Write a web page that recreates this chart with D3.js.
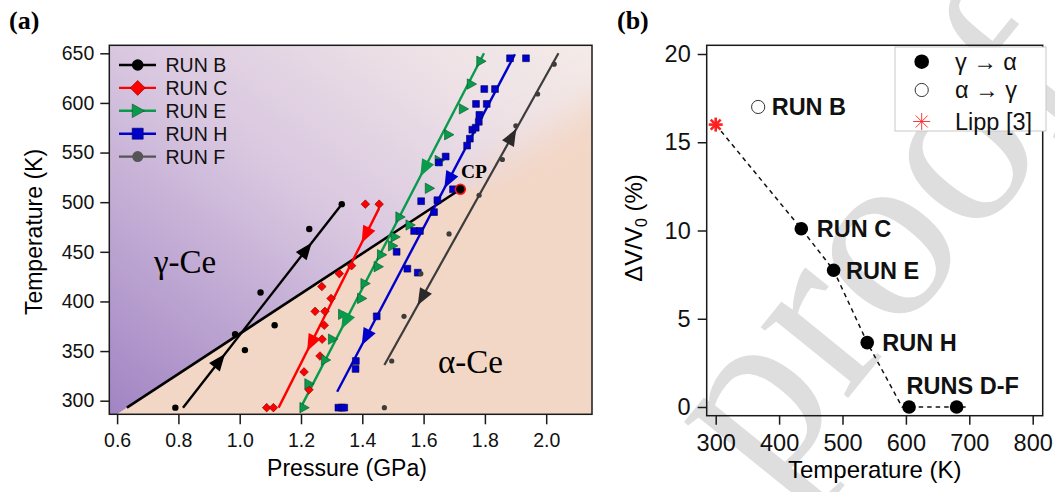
<!DOCTYPE html>
<html><head><meta charset="utf-8">
<script src="https://cdn.jsdelivr.net/npm/d3@7"></script>
<style>body{margin:0;background:#fff}svg{display:block}</style>
</head><body>
<svg id="c" width="1055" height="492"></svg>
<script>
// ---------------- Panel (a) data ----------------
const runB_P = [0.79, 0.985, 1.017, 1.068, 1.114, 1.227, 1.333];
const runB_T = [293, 367, 351, 409, 376, 473, 498];
const runC_P = [1.088, 1.110, 1.226, 1.210, 1.262, 1.269, 1.276, 1.246, 1.278, 1.298, 1.268, 1.325, 1.365, 1.410, 1.455];
const runC_T = [293, 293, 311, 329, 345, 362, 376, 390, 390, 403, 415, 428, 436, 498, 498];
const runE_P = [1.21, 1.226, 1.28, 1.303, 1.336, 1.398, 1.409, 1.452, 1.463, 1.499, 1.507, 1.523, 1.556, 1.619, 1.651, 1.682, 1.73, 1.756, 1.787];
const runE_T = [293, 317, 341, 362, 387, 403, 418, 435, 447, 456, 465, 485, 477, 514, 542, 568, 594, 619, 642];
const runH_P = [1.322, 1.333, 1.341, 1.378, 1.379, 1.447, 1.547, 1.581, 1.512, 1.569, 1.588, 1.634, 1.645, 1.592, 1.696, 1.650, 1.672, 1.742, 1.751, 1.759, 1.77, 1.78, 1.782, 1.771, 1.806, 1.798, 1.833, 1.882, 1.934];
const runH_T = [293, 293, 293, 332, 340, 385, 433, 429, 450, 471, 471, 490, 502, 501, 513, 540, 546, 557, 564, 573, 575, 581, 588, 599, 599, 614, 614, 645, 645];
const runF_P = [1.472, 1.496, 1.536, 1.591, 1.683, 1.781, 1.857, 1.901, 1.972, 2.026];
const runF_T = [293, 340, 385, 428, 468, 507, 543, 577, 609, 639];

// guide lines [P0, T0, P1, T1]
const lineB = [0.815, 293, 1.333, 498];
const lineC = [1.127, 293, 1.455, 494];
const lineE = [1.199, 293, 1.797, 650];
const lineH = [1.318, 309, 1.898, 649];
const lineF = [1.472, 336, 2.04, 650];
const boundary = [0.632, 293, 1.72, 513];
const cpPoint = [1.72, 513];

// arrow temperatures and directions (+1 = toward higher T, -1 = toward lower T)
const arrB_T = [340, 452], arrB_D = [1, 1];
const arrC_T = [358, 467], arrC_D = [-1, -1];
const arrE_T = [380, 534], arrE_D = [-1, -1];
const arrH_T = [364, 522], arrH_D = [-1, -1];
const arrF_T = [404, 566], arrF_D = [-1, 1];

const runNames = ["RUN B", "RUN C", "RUN E", "RUN H", "RUN F"];
const xTicksA = [0.6, 0.8, 1.0, 1.2, 1.4, 1.6, 1.8, 2.0];
const yTicksA = [300, 350, 400, 450, 500, 550, 600, 650];

// ---------------- Panel (b) data ----------------
const gammaT = [435, 486, 539, 605, 680];
const gammaV = [10.1, 7.75, 3.65, 0, 0];
const gammaLabels = ["RUN C", "RUN E", "RUN H", "", ""];
const alphaT = [367];
const alphaV = [17.0];
const alphaLabels = ["RUN B"];
const lippT = [300];
const lippV = [16];
const dashT = [300, 435, 486, 539, 594, 700];
const dashV = [16, 10.1, 7.75, 3.65, 0, 0];
const legendB = ["γ → α", "α → γ", "Lipp [3]"];
const xTicksB = [300, 400, 500, 600, 700, 800];
const yTicksB = [0, 5, 10, 15, 20];

// ---------------- drawing ----------------
const SANS = "'Liberation Sans', Arial, Helvetica, sans-serif";
const SERIF = "'Liberation Serif', 'Times New Roman', serif";
const svg = d3.select("#c");
const defs = svg.append("defs");

// watermark (drawn first, under everything)
defs.append("clipPath").attr("id", "clipAll").append("rect")
  .attr("x", 600).attr("y", 0).attr("width", 455).attr("height", 492);
svg.append("g").attr("clip-path", "url(#clipAll)").append("text")
  .attr("transform", "translate(768,497) rotate(-51)")
  .attr("font-family", SERIF).attr("font-size", 245)
  .attr("fill", "#dedede").text("proof");

// ===== Panel A =====
const A = {l: 109.3, r: 592, t: 45.3, b: 414.3};
const xA0 = d3.scaleLinear().domain([0.6, 2.0]).range([117.1, 546.2]);
const yA0 = d3.scaleLinear().domain([300, 650]).range([400.7, 53.3]);
const xA = d3.scaleLinear().domain([xA0.invert(A.l), xA0.invert(A.r)]).range([A.l, A.r]);
const yA = d3.scaleLinear().domain([yA0.invert(A.b), yA0.invert(A.t)]).range([A.b, A.t]);

defs.append("clipPath").attr("id", "clipA").append("rect")
  .attr("x", A.l).attr("y", A.t).attr("width", A.r - A.l).attr("height", A.b - A.t);

const bg = defs.append("linearGradient").attr("id", "bgA")
  .attr("x1", 0).attr("y1", 1).attr("x2", 1).attr("y2", 0);
[[0, "#a184c3"], [0.5, "#d9c7e0"], [0.8, "#ede1e6"], [1, "#f5ebe7"]]
  .forEach(s => bg.append("stop").attr("offset", s[0]).attr("stop-color", s[1]));
const flt = defs.append("filter").attr("id", "blurA")
  .attr("x", "-50%").attr("y", "-50%").attr("width", "200%").attr("height", "200%");
flt.append("feGaussianBlur").attr("stdDeviation", 18);

const gA = svg.append("g");
const gClip = gA.append("g").attr("clip-path", "url(#clipA)");
gClip.append("rect").attr("x", A.l).attr("y", A.t).attr("width", A.r - A.l).attr("height", A.b - A.t)
  .attr("fill", "url(#bgA)");
const slopeBd = (boundary[3] - boundary[1]) / (boundary[2] - boundary[0]);
const Tmin = yA.domain()[0];
const pStart = boundary[0] - (boundary[1] - Tmin) / slopeBd;
const PEACH = "#f3d7c6";
const polyA = [[pStart, Tmin], [cpPoint[0], cpPoint[1]], [2.6, cpPoint[1]], [2.6, Tmin - 20]];
const polyB = [[cpPoint[0], cpPoint[1]], [2.6, cpPoint[1] + slopeBd * (2.6 - cpPoint[0])], [2.6, 400], [cpPoint[0], 400]];
const toPts = p => p.map(d => [xA(d[0]), yA(d[1])].join(",")).join(" ");
gClip.append("polygon").attr("points", toPts(polyA)).attr("fill", PEACH);
gClip.append("polygon").attr("points", toPts(polyB)).attr("fill", PEACH).attr("filter", "url(#blurA)");

const COL = {B: "#000000", C: "#ff0000", E: "#0a9a4c", H: "#0000cc", F: "#3c3c3c"};

function seg(g, L, color, w) {
  g.append("line").attr("x1", xA(L[0])).attr("y1", yA(L[1])).attr("x2", xA(L[2])).attr("y2", yA(L[3]))
    .attr("stroke", color).attr("stroke-width", w).attr("stroke-linecap", "butt");
}
const gLines = gA.append("g").attr("clip-path", "url(#clipA)");
seg(gLines, boundary, "#000", 2.6);
seg(gLines, lineB, COL.B, 2.4);
seg(gLines, lineC, COL.C, 2.4);
seg(gLines, lineE, COL.E, 2.4);
seg(gLines, lineH, COL.H, 2.4);
seg(gLines, lineF, COL.F, 2.2);

// marker shapes
const diamond = h => `M0,${-h}L${h},0L0,${h}L${-h},0Z`;
const triR = s => `M${s},0L${-0.8 * s},${-s}L${-0.8 * s},${s}Z`;
const square = s => `M${-s},${-s}H${s}V${s}H${-s}Z`;

const gM = gA.append("g");
function pts(P, T) { return P.map((p, i) => [p, T[i]]); }
gM.selectAll(".mB").data(pts(runB_P, runB_T)).join("circle")
  .attr("cx", d => xA(d[0])).attr("cy", d => yA(d[1])).attr("r", 3.2).attr("fill", COL.B);
gM.selectAll(".mC").data(pts(runC_P, runC_T)).join("path").attr("class", "mC")
  .attr("d", diamond(4.3)).attr("transform", d => `translate(${xA(d[0])},${yA(d[1])})`)
  .attr("fill", COL.C).attr("stroke", "#7a0000").attr("stroke-width", 0.6);
gM.selectAll(".mE").data(pts(runE_P, runE_T)).join("path").attr("class", "mE")
  .attr("d", triR(5.2)).attr("transform", d => `translate(${xA(d[0])},${yA(d[1])})`)
  .attr("fill", COL.E).attr("stroke", "#05502a").attr("stroke-width", 0.6);
gM.selectAll(".mH").data(pts(runH_P, runH_T)).join("path").attr("class", "mH")
  .attr("d", square(3.4)).attr("transform", d => `translate(${xA(d[0])},${yA(d[1])})`)
  .attr("fill", COL.H).attr("stroke", "#000055").attr("stroke-width", 0.6);
gM.selectAll(".mF").data(pts(runF_P, runF_T)).join("circle").attr("class", "mF")
  .attr("cx", d => xA(d[0])).attr("cy", d => yA(d[1])).attr("r", 2.6).attr("fill", COL.F);

// arrows
function arrows(L, Ts, Ds, color) {
  const x0 = xA(L[0]), y0 = yA(L[1]), x1 = xA(L[2]), y1 = yA(L[3]);
  const ang = Math.atan2(y1 - y0, x1 - x0) * 180 / Math.PI;
  Ts.forEach((t, i) => {
    const p = L[0] + (t - L[1]) / (L[3] - L[1]) * (L[2] - L[0]);
    const a = Ds[i] > 0 ? ang : ang + 180;
    gA.append("path").attr("d", "M9,0L-8,-6.8L-8,6.8Z").attr("fill", color)
      .attr("transform", `translate(${xA(p)},${yA(t)}) rotate(${a})`);
  });
}
arrows(lineB, arrB_T, arrB_D, COL.B);
arrows(lineC, arrC_T, arrC_D, COL.C);
arrows(lineE, arrE_T, arrE_D, COL.E);
arrows(lineH, arrH_T, arrH_D, COL.H);
arrows(lineF, arrF_T, arrF_D, "#2a2a2a");

// CP point
gA.append("circle").attr("cx", xA(cpPoint[0])).attr("cy", yA(cpPoint[1])).attr("r", 5)
  .attr("fill", "#000").attr("stroke", "#ff1a1a").attr("stroke-width", 1.6);
gA.append("text").attr("x", xA(cpPoint[0]) + 0.5).attr("y", yA(cpPoint[1]) - 11.5)
  .attr("font-family", SERIF).attr("font-weight", "bold").attr("font-size", 19.5).text("CP");

// phase labels
gA.append("text").attr("x", 154).attr("y", 273).attr("font-family", SERIF).attr("font-size", 33).text("γ-Ce");
gA.append("text").attr("x", 438).attr("y", 373).attr("font-family", SERIF).attr("font-size", 33).text("α-Ce");

// frame
gA.append("rect").attr("x", A.l).attr("y", A.t).attr("width", A.r - A.l).attr("height", A.b - A.t)
  .attr("fill", "none").attr("stroke", "#1a1a1a").attr("stroke-width", 1.5);

// axes
const axXA = gA.append("g").attr("transform", `translate(0,${A.b})`)
  .call(d3.axisBottom(xA).tickValues(xTicksA).tickFormat(d3.format(".1f")).tickSize(10).tickPadding(9));
const axYA = gA.append("g").attr("transform", `translate(${A.l},0)`)
  .call(d3.axisLeft(yA).tickValues(yTicksA).tickSize(9).tickPadding(6));
[axXA, axYA].forEach(ax => {
  ax.select(".domain").remove();
  ax.selectAll("line").attr("stroke", "#1a1a1a").attr("stroke-width", 1.5);
  ax.selectAll("text").attr("font-family", SANS).attr("font-size", 19.5).attr("fill", "#111");
});
gA.append("text").attr("x", 347).attr("y", 476).attr("text-anchor", "middle")
  .attr("font-family", SANS).attr("font-size", 23).text("Pressure (GPa)");
gA.append("text").attr("transform", "translate(42,232) rotate(-90)").attr("text-anchor", "middle")
  .attr("font-family", SANS).attr("font-size", 23).text("Temperature (K)");

// legend A
const legCols = [COL.B, COL.C, COL.E, COL.H, "#555"];
const legShapes = [
  g => g.append("circle").attr("r", 5.8).attr("fill", COL.B),
  g => g.append("path").attr("d", diamond(7.5)).attr("fill", COL.C).attr("stroke", "#7a0000").attr("stroke-width", 0.6),
  g => g.append("path").attr("d", triR(6.8)).attr("fill", COL.E).attr("stroke", "#05502a").attr("stroke-width", 0.6),
  g => g.append("path").attr("d", square(5.5)).attr("fill", COL.H).attr("stroke", "#000055").attr("stroke-width", 0.6),
  g => g.append("path").attr("d", d3.symbol().type(d3.symbolCircle).size(95)()).attr("fill", "#555")
];
runNames.forEach((n, i) => {
  const y = 65 + i * 22.9;
  gA.append("line").attr("x1", 119).attr("x2", 156).attr("y1", y).attr("y2", y)
    .attr("stroke", legCols[i]).attr("stroke-width", 2.4);
  const g = gA.append("g").attr("transform", `translate(137.7,${y})`);
  legShapes[i](g);
  gA.append("text").attr("x", 165.5).attr("y", y).attr("dy", "0.36em")
    .attr("font-family", SANS).attr("font-size", 19.5).attr("fill", "#111").text(n);
});

// ===== Panel B =====
const B = {l: 706.7, r: 1042.7, t: 45.3, b: 415.7};
const xB0 = d3.scaleLinear().domain([300, 800]).range([715.7, 1032.7]);
const yB0 = d3.scaleLinear().domain([0, 20]).range([407, 54]);
const xB = d3.scaleLinear().domain([xB0.invert(B.l), xB0.invert(B.r)]).range([B.l, B.r]);
const yB = d3.scaleLinear().domain([yB0.invert(B.b), yB0.invert(B.t)]).range([B.b, B.t]);
const gB = svg.append("g");

gB.append("path").datum(dashT.map((t, i) => [t, dashV[i]]))
  .attr("d", d3.line().x(d => xB(d[0])).y(d => yB(d[1])))
  .attr("fill", "none").attr("stroke", "#111").attr("stroke-width", 1.5).attr("stroke-dasharray", "4.5,4");

function star(g, r, w) {
  [0, 45, 90, 135].forEach(a => {
    const c = Math.cos(a * Math.PI / 180) * r, s = Math.sin(a * Math.PI / 180) * r;
    g.append("line").attr("x1", -c).attr("y1", -s).attr("x2", c).attr("y2", s)
      .attr("stroke", "#ff2020").attr("stroke-width", w);
  });
}
lippT.forEach((t, i) => {
  const g = gB.append("g").attr("transform", `translate(${xB(t)},${yB(lippV[i])})`);
  star(g, 7, 2.6);
});
gB.selectAll(".ga").data(gammaT.map((t, i) => [t, gammaV[i], gammaLabels[i]])).join("circle")
  .attr("cx", d => xB(d[0])).attr("cy", d => yB(d[1])).attr("r", 6.8).attr("fill", "#000");
gB.selectAll(".al").data(alphaT.map((t, i) => [t, alphaV[i], alphaLabels[i]])).join("circle")
  .attr("cx", d => xB(d[0])).attr("cy", d => yB(d[1])).attr("r", 6.6)
  .attr("fill", "#fff").attr("stroke", "#333").attr("stroke-width", 1);

const lblOff = [15.5, 12.5, 15];
gammaT.forEach((t, i) => {
  if (!gammaLabels[i]) return;
  gB.append("text").attr("x", xB(t) + lblOff[i]).attr("y", yB(gammaV[i])).attr("dy", "0.36em")
    .attr("font-family", SANS).attr("font-weight", "bold").attr("font-size", 23.5).attr("fill", "#111")
    .text(gammaLabels[i]);
});
alphaT.forEach((t, i) => {
  gB.append("text").attr("x", xB(t) + 13.5).attr("y", yB(alphaV[i])).attr("dy", "0.36em")
    .attr("font-family", SANS).attr("font-weight", "bold").attr("font-size", 23.5).attr("fill", "#111")
    .text(alphaLabels[i]);
});
gB.append("text").attr("x", xB(gammaT[3]) - 2.5).attr("y", yB(0) - 13)
  .attr("font-family", SANS).attr("font-weight", "bold").attr("font-size", 23.5).attr("fill", "#111")
  .text("RUNS D-F");

// frame
gB.append("rect").attr("x", B.l).attr("y", B.t).attr("width", B.r - B.l).attr("height", B.b - B.t)
  .attr("fill", "none").attr("stroke", "#1a1a1a").attr("stroke-width", 1.5);

// legend B
gB.append("rect").attr("x", 895).attr("y", 47).attr("width", 151).attr("height", 84)
  .attr("fill", "#fff").attr("stroke", "#c8c8c8").attr("stroke-width", 1);
const lyB = [61.7, 90, 121.5];
gB.append("circle").attr("cx", 921.7).attr("cy", lyB[0]).attr("r", 7.3).attr("fill", "#000");
gB.append("circle").attr("cx", 921.7).attr("cy", lyB[1]).attr("r", 6.6).attr("fill", "#fff")
  .attr("stroke", "#333").attr("stroke-width", 1);
star(gB.append("g").attr("transform", `translate(921.7,${lyB[2]})`), 8.5, 0.9);
legendB.forEach((s, i) => {
  gB.append("text").attr("x", 955).attr("y", lyB[i]).attr("dy", "0.36em")
    .attr("font-family", SANS).attr("font-size", 23.5).attr("fill", "#111").text(s);
});

// axes B
const axXB = gB.append("g").attr("transform", `translate(0,${B.b})`)
  .call(d3.axisBottom(xB).tickValues(xTicksB).tickSize(9).tickPadding(10));
const axYB = gB.append("g").attr("transform", `translate(${B.l},0)`)
  .call(d3.axisLeft(yB).tickValues(yTicksB).tickSize(9).tickPadding(7));
[axXB, axYB].forEach(ax => {
  ax.select(".domain").remove();
  ax.selectAll("line").attr("stroke", "#1a1a1a").attr("stroke-width", 1.5);
  ax.selectAll("text").attr("font-family", SANS).attr("font-size", 23.5).attr("fill", "#111");
});
gB.append("text").attr("x", (B.l + B.r) / 2).attr("y", 478).attr("text-anchor", "middle")
  .attr("font-family", SANS).attr("font-size", 24).text("Temperature (K)");
const yt = gB.append("text").attr("transform", "translate(642,228) rotate(-90)").attr("text-anchor", "middle")
  .attr("font-family", SANS).attr("font-size", 24);
yt.append("tspan").text("ΔV/V");
yt.append("tspan").attr("font-size", 16).attr("dy", 5).text("0");
yt.append("tspan").attr("dy", -5).text(" (%)");

// panel letters
svg.append("text").attr("x", 9).attr("y", 29).attr("font-family", SERIF).attr("font-weight", "bold")
  .attr("font-size", 26).text("(a)");
svg.append("text").attr("x", 617).attr("y", 29).attr("font-family", SERIF).attr("font-weight", "bold")
  .attr("font-size", 26).text("(b)");
</script>
</body></html>
